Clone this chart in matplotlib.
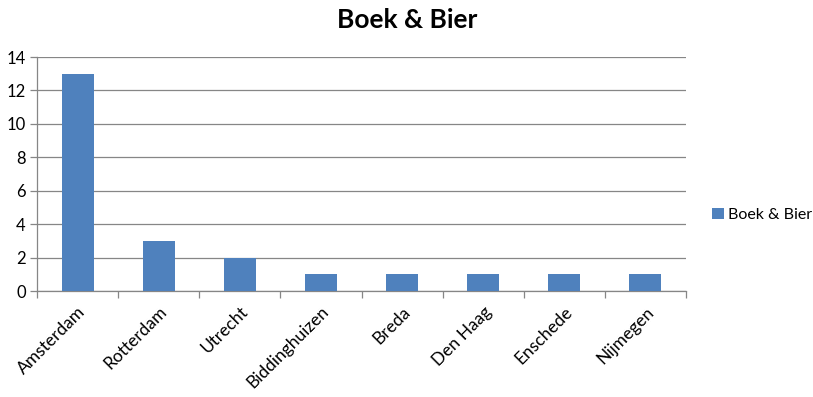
import matplotlib
matplotlib.use("Agg")
import matplotlib.pyplot as plt
import numpy as np
from matplotlib.patches import Patch

categories = ["Amsterdam", "Rotterdam", "Utrecht", "Biddinghuizen", "Breda",
              "Den Haag", "Enschede", "Nijmegen"]
values = [13, 3, 2, 1, 1, 1, 1, 1]
series_name = "Boek & Bier"
title = "Boek & Bier"
yticks = [0, 2, 4, 6, 8, 10, 12, 14]

plt.rcParams['font.family'] = ['Lato', 'DejaVu Sans']

fig = plt.figure(figsize=(8.13, 3.97), dpi=100)
W, H = 813, 397
left, right, top, bottom = 37, 686, 57, 291
ax = fig.add_axes([left / W, 1 - bottom / H, (right - left) / W, (bottom - top) / H])

x = np.arange(len(categories))
bar_color = "#4F81BD"
ax.bar(x, values, width=0.395, color=bar_color, zorder=3)
ax.set_xlim(-0.5, len(categories) - 0.5)
ax.set_ylim(0, 14)
ax.set_yticks(yticks)
ax.set_yticklabels([str(t) for t in yticks], fontsize=12)
ax.yaxis.grid(True, color="#868686", linewidth=0.9, zorder=0)
ax.set_axisbelow(True)

ax.set_xticks(x)
ax.set_xticklabels(categories, rotation=45, ha="right", rotation_mode="anchor", fontsize=12.5)
ax.set_xticks(np.arange(len(categories) + 1) - 0.5, minor=True)
ax.tick_params(axis="x", which="major", length=0, pad=9)
ax.tick_params(axis="x", which="minor", length=5, color="#868686", width=0.9)
ax.tick_params(axis="y", length=5, color="#868686", width=0.9, pad=3)

for s in ["top", "right"]:
    ax.spines[s].set_visible(False)
for s in ["left", "bottom"]:
    ax.spines[s].set_color("#868686")
    ax.spines[s].set_linewidth(0.9)

fig.text(407 / W, 1 - 20 / H, title, ha="center", va="center", fontsize=19, fontweight="bold")

handle = Patch(facecolor=bar_color, edgecolor="none")
fig.legend([handle], [series_name], loc="center left", bbox_to_anchor=(712 / W, 1 - 215 / H),
           frameon=False, fontsize=11.5, handlelength=0.75, handleheight=0.75, handletextpad=0.25,
           borderpad=0, borderaxespad=0)

fig.savefig("out.png", dpi=100)
